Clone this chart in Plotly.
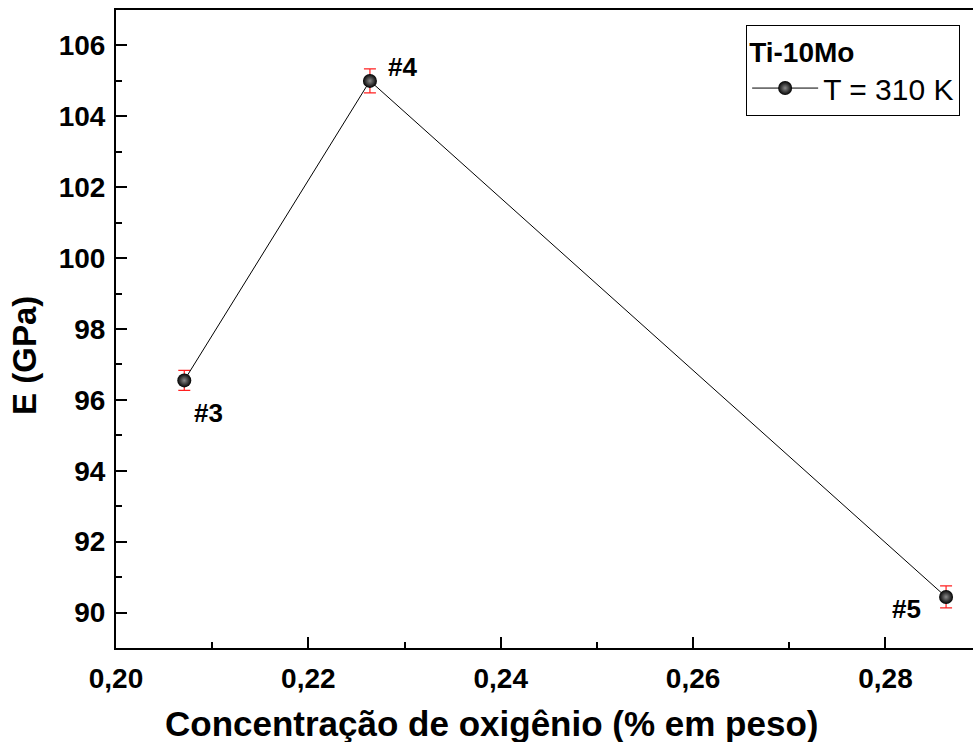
import plotly.graph_objects as go

# Oxygen content (wt%) and Young's modulus for the Ti-10Mo samples at 310 K
oxygen = [0.2071, 0.2264, 0.2863]
modulus = [96.55, 105.0, 90.44]
modulus_err = [0.28, 0.34, 0.31]
sample_labels = ["#3", "#4", "#5"]
label_x = [0.2096, 0.2298, 0.2822]
label_y = [95.64, 105.39, 90.09]

x_title = "Concentração de oxigênio (% em peso)"
y_title = "E (GPa)"

FONT = "Liberation Sans, Arial, sans-serif"

fig = go.Figure()
fig.add_trace(go.Scatter(
    x=oxygen, y=modulus,
    mode="lines+markers",
    name="T = 310 K",
    line=dict(color="black", width=1),
    marker=dict(size=14, color="black",
                gradient=dict(type="radial", color="#8a8a8a"),
                line=dict(width=0)),
    error_y=dict(type="data", array=modulus_err, visible=True,
                 color="#ff2020", thickness=1.2, width=6),
))

for lx, ly, txt in zip(label_x, label_y, sample_labels):
    fig.add_annotation(x=lx, y=ly, text=f"<b>{txt}</b>", showarrow=False,
                       font=dict(family=FONT, size=26, color="black"))

# axis titles placed as paper-referenced annotations
fig.add_annotation(xref="paper", yref="paper", x=0.4387, y=-0.119,
                   xanchor="center", yanchor="middle", showarrow=False,
                   text=f"<b>{x_title}</b>",
                   font=dict(family=FONT, size=35, color="black"))
fig.add_annotation(xref="paper", yref="paper", x=-0.106, y=0.458,
                   xanchor="center", yanchor="middle", showarrow=False,
                   textangle=-90, text=f"<b>{y_title}</b>",
                   font=dict(family=FONT, size=33, color="black"))

axis_common = dict(
    showgrid=False, zeroline=False,
    showline=True, linecolor="black", linewidth=2,
    ticks="inside", ticklen=11, tickwidth=2, tickcolor="black",
    tickfont=dict(family=FONT, size=28, color="black", weight="bold"),
)

fig.update_xaxes(
    range=[0.2, 0.2891], dtick=0.02, tickformat=".2f", mirror=True,
    ticklabelstandoff=4,
    minor=dict(ticks="inside", ticklen=6, tickwidth=2, tickcolor="black", dtick=0.01),
    **axis_common,
)
fig.update_yaxes(
    range=[89, 107], dtick=2, ticklabelstandoff=3,
    minor=dict(ticks="inside", ticklen=6, tickwidth=2, tickcolor="black", dtick=1),
    **axis_common,
)

fig.update_layout(
    width=973, height=742,
    separators=",.",
    paper_bgcolor="white", plot_bgcolor="white",
    margin=dict(l=116, r=0, t=10, b=94),
    showlegend=True,
    legend=dict(
        x=0.985, y=0.977, xanchor="right", yanchor="top",
        bordercolor="black", borderwidth=1, bgcolor="white",
        title=dict(text="<b>Ti-10Mo</b>", font=dict(family=FONT, size=28, color="black")),
        font=dict(family=FONT, size=30, color="black"),
        itemwidth=66, tracegroupgap=0,
    ),
)

fig.write_html("out.html")
